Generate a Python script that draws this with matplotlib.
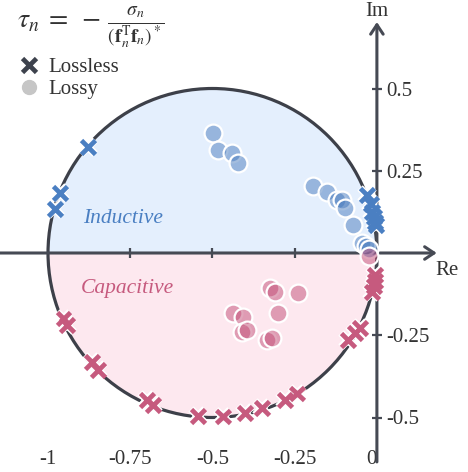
import matplotlib
matplotlib.use('Agg')
import matplotlib.pyplot as plt
from matplotlib.patches import Wedge, Circle
from matplotlib.lines import Line2D
import matplotlib.patheffects as pe

plt.rcParams['font.family'] = ['Liberation Serif', 'DejaVu Serif']
plt.rcParams['mathtext.fontset'] = 'stix'

# ---- data ----
lossless_ind_re = [-0.878, -0.963, -0.979, -0.030, -0.018, -0.014, -0.008, -0.005, -0.003]
lossless_ind_im = [0.322, 0.182, 0.134, 0.176, 0.150, 0.125, 0.110, 0.095, 0.085]

lossless_cap_re = [-0.953, -0.943, -0.867, -0.847, -0.700, -0.680, -0.545, -0.467,
                   -0.401, -0.350, -0.280, -0.244, -0.087, -0.067, -0.052,
                   -0.014, -0.010, -0.007, -0.005]
lossless_cap_im = [-0.199, -0.219, -0.330, -0.356, -0.447, -0.462, -0.495, -0.497,
                   -0.485, -0.472, -0.447, -0.427, -0.264, -0.244, -0.229,
                   -0.118, -0.100, -0.085, -0.068]

lossy_ind_re = [-0.498, -0.482, -0.442, -0.422, -0.194, -0.153, -0.122, -0.107,
                -0.097, -0.072, -0.045, -0.032, -0.025]
lossy_ind_im = [0.366, 0.313, 0.305, 0.273, 0.204, 0.186, 0.161, 0.161,
                0.136, 0.085, 0.030, 0.020, 0.012]

lossy_cap_re = [-0.325, -0.310, -0.239, -0.300, -0.437, -0.406, -0.411, -0.396,
                -0.335, -0.320, -0.025]
lossy_cap_im = [-0.107, -0.118, -0.123, -0.183, -0.183, -0.194, -0.239, -0.234,
                -0.264, -0.259, -0.010]

xticks = [-1, -0.75, -0.5, -0.25, 0]
xticklabels = ['-1', '-0.75', '-0.5', '-0.25', '0']
yticks = [0.5, 0.25, -0.25, -0.5]
yticklabels = ['0.5', '0.25', '-0.25', '-0.5']

# ---- style ----
BLUE = '#4a7fc2'
PINK = '#c65a7e'
BLUE_FILL = '#e4effd'
PINK_FILL = '#fde8ef'
AX = '#464a54'
TXT = '#333333'

fig = plt.figure(figsize=(4.68, 4.72), dpi=100)
h_px = 446
ax = fig.add_axes([0, 1 - h_px / 472, 1, h_px / 472])
ax.set_xlim(-1.146, 0.277)
ax.set_ylim((253 - h_px) / 329, 253 / 329)
for s in ax.spines.values():
    s.set_visible(False)

# half-disc fills and circle
ax.add_patch(Wedge((-0.5, 0), 0.5, 0, 180, facecolor=BLUE_FILL, edgecolor='none', zorder=1))
ax.add_patch(Wedge((-0.5, 0), 0.5, 180, 360, facecolor=PINK_FILL, edgecolor='none', zorder=1))
ax.add_patch(Circle((-0.5, 0), 0.5, facecolor='none', edgecolor='#3d4049', lw=2.3, zorder=2))

# axes with arrows
arr = dict(arrowstyle='->,head_length=0.45,head_width=0.3', lw=2.2, color=AX,
           shrinkA=0, shrinkB=0, mutation_scale=15)
ax.annotate('', xy=(0.182, 0), xytext=(-1.146, 0), arrowprops=arr, zorder=3,
            annotation_clip=False)
ax.annotate('', xy=(0, 0.702), xytext=(0, -0.635), arrowprops=arr, zorder=3,
            annotation_clip=False)
ax.text(0.213, -0.052, 'Re', fontsize=15, color=TXT, ha='center', va='center')
ax.text(0, 0.733, 'Im', fontsize=15, color=TXT, ha='center', va='center')

# x ticks: marks on the axis, labels at bottom
ax.set_xticks(xticks)
ax.set_xticklabels(xticklabels)
ax.tick_params(axis='x', length=0, pad=3, labelsize=15, labelcolor=TXT)
ax.get_xticklabels()[-1].set_ha('right')
ax.vlines(xticks[1:-1], -0.016, 0.016, color=AX, lw=1.6, zorder=3)

# y ticks on axis at x=0, labels to the right
ax.yaxis.tick_right()
ax.spines['right'].set_position(('data', 0))
ax.set_yticks(yticks)
ax.set_yticklabels(yticklabels)
ax.tick_params(axis='y', direction='inout', length=7, width=1.6, color=AX,
               pad=3, labelsize=15, labelcolor=TXT)

# region labels
ax.text(-0.772, 0.106, 'Inductive', fontsize=15.5, style='italic', color=BLUE,
        ha='center', va='center', zorder=2)
ax.text(-0.760, -0.109, 'Capacitive', fontsize=15.5, style='italic', color=PINK,
        ha='center', va='center', zorder=2)

# lossy points
ax.scatter(lossy_ind_re, lossy_ind_im, s=165, facecolor=(75/255, 125/255, 190/255, 0.5),
           edgecolor='white', linewidth=1.6, zorder=4)
ax.scatter(lossy_cap_re, lossy_cap_im, s=165, facecolor=(195/255, 80/255, 120/255, 0.5),
           edgecolor='white', linewidth=1.6, zorder=4)

# lossless crosses
stroke = [pe.Stroke(linewidth=5.5, foreground='white'), pe.Normal()]
ax.plot(lossless_ind_re, lossless_ind_im, ls='none', marker='x', ms=10, mew=3.4,
        color=BLUE, zorder=5, path_effects=stroke)
ax.plot(lossless_cap_re, lossless_cap_im, ls='none', marker='x', ms=10, mew=3.4,
        color=PINK, zorder=5, path_effects=stroke)

# formula
fig.text(0.036, 0.942,
         r'$\tau_n\;=\;-\,\frac{\sigma_n}{(\mathbf{f}_n^{\mathrm{T}}\mathbf{f}_n)^*}$',
         fontsize=20, color=TXT, ha='left', va='center')

# legend
handles = [Line2D([], [], ls='none', marker='x', ms=10, mew=3.4, color='#3d424d'),
           Line2D([], [], ls='none', marker='o', ms=10, color='#c6c6c6')]
fig.legend(handles, ['Lossless', 'Lossy'], loc='upper left',
           bbox_to_anchor=(0.012, 0.9), frameon=False, fontsize=15,
           handlelength=1.2, handletextpad=0.35, labelspacing=0.1, borderpad=0,
           labelcolor=TXT)

fig.savefig('out.png', dpi=100)
